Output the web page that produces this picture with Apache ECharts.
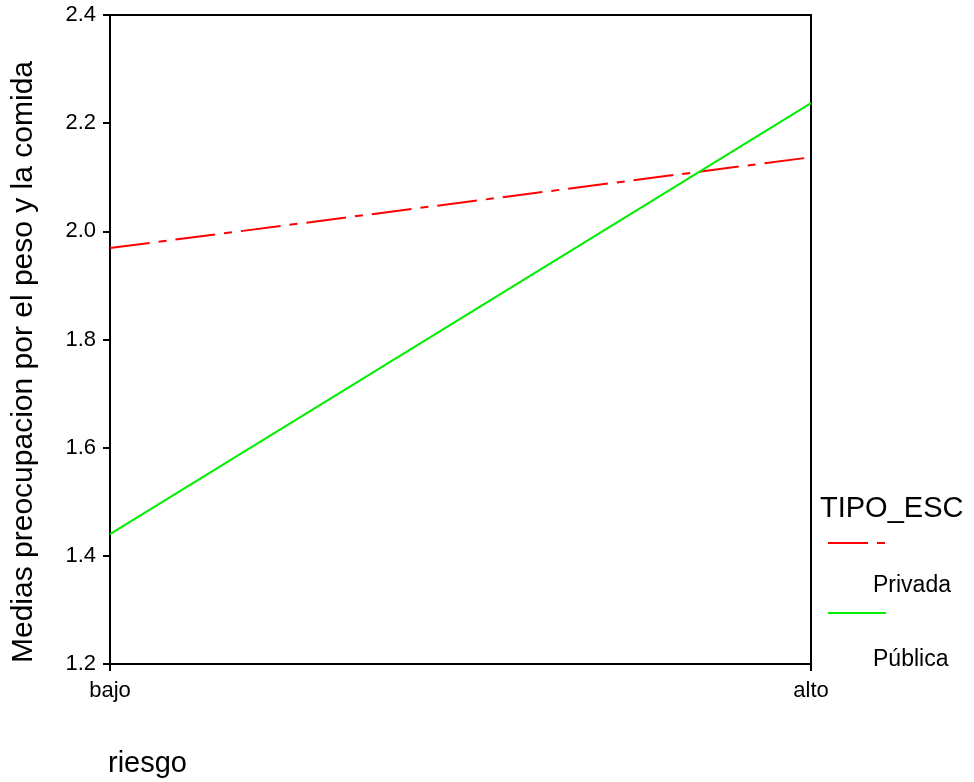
<!DOCTYPE html>
<html>
<head>
<meta charset="utf-8">
<script src="https://cdn.jsdelivr.net/npm/echarts@6/dist/echarts.min.js"></script>
<style>
  html, body { margin: 0; padding: 0; background: #fff; }
  #chart { width: 974px; height: 782px; }
</style>
</head>
<body>
<div id="chart"></div>
<script>
// Risk level categories on the x axis
const riesgo = ['bajo', 'alto'];
// Mean "preocupacion por el peso y la comida" by school type
const privada = [1.969, 2.137];
const publica = [1.440, 2.237];
const seriesNames = ['Privada', 'Pública'];

const FONT = '"Liberation Sans", Arial, sans-serif';
const chart = echarts.init(document.getElementById('chart'), null, { renderer: 'canvas' });

const axisLine = { show: true, lineStyle: { color: '#000', width: 2 } };
const tick = { show: true, length: 7, lineStyle: { color: '#000', width: 2 } };

function legendBox(name, top) {
  return {
    data: [name],
    left: 827, top: top,
    padding: 0,
    itemWidth: 58, itemHeight: 14,
    itemStyle: { opacity: 0 },
    formatter: () => '',
    selectedMode: false
  };
}

function label(text, left, top, size) {
  return { type: 'text', left: left, top: top, style: { text: text, font: size + 'px ' + FONT, fill: '#000' } };
}

chart.setOption({
  backgroundColor: '#fff',
  animation: false,
  grid: { left: 110, right: 163, top: 15, bottom: 118, show: false },
  xAxis: [
    {
      type: 'category',
      data: riesgo,
      boundaryGap: false,
      axisLine: axisLine,
      axisTick: tick,
      axisLabel: { color: '#000', fontFamily: FONT, fontSize: 22, margin: 16 },
      splitLine: { show: false }
    },
    {
      type: 'category',
      data: riesgo,
      position: 'top',
      boundaryGap: false,
      axisLine: axisLine,
      axisTick: { show: false },
      axisLabel: { show: false }
    }
  ],
  yAxis: [
    {
      type: 'value',
      min: 1.2,
      max: 2.4,
      interval: 0.2,
      axisLine: axisLine,
      axisTick: tick,
      axisLabel: {
        color: '#000', fontFamily: FONT, fontSize: 22, margin: 14,
        formatter: v => v.toFixed(1)
      },
      splitLine: { show: false }
    },
    {
      type: 'value',
      min: 1.2,
      max: 2.4,
      interval: 0.2,
      position: 'right',
      axisLine: axisLine,
      axisTick: { show: false },
      axisLabel: { show: false },
      splitLine: { show: false }
    }
  ],
  legend: [legendBox(seriesNames[0], 536), legendBox(seriesNames[1], 606)],
  graphic: [
    {
      type: 'text',
      x: 24, y: 362,
      rotation: Math.PI / 2,
      style: {
        text: 'Medias preocupacion por el peso y la comida',
        font: '30px ' + FONT, fill: '#000',
        align: 'center', verticalAlign: 'middle',
        textAlign: 'center', textVerticalAlign: 'middle'
      }
    },
    label('TIPO_ESC', 820, 494, 29),
    label(seriesNames[0], 873, 574, 23),
    label(seriesNames[1], 873, 648, 23),
    label('riesgo', 108, 749, 29)
  ],
  series: [
    {
      name: seriesNames[0],
      type: 'line',
      data: privada,
      symbol: 'none',
      color: '#ff0000',
      lineStyle: { color: '#ff0000', width: 2, type: [40, 9, 8, 9] }
    },
    {
      name: seriesNames[1],
      type: 'line',
      data: publica,
      symbol: 'none',
      color: '#00ee00',
      lineStyle: { color: '#00ee00', width: 2, type: 'solid' }
    }
  ]
});
</script>
</body>
</html>
